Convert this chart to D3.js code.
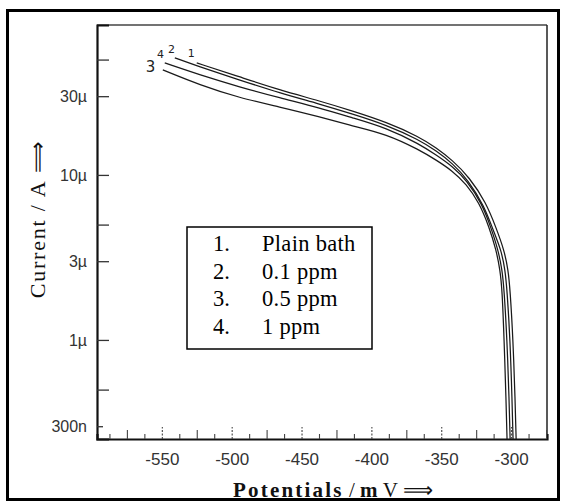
<!DOCTYPE html>
<html>
<head>
<meta charset="utf-8">
<script src="https://cdn.jsdelivr.net/npm/d3@7"></script>
<style>
  html, body { margin: 0; padding: 0; background: #fff; }
  svg { display: block; }
</style>
</head>
<body>
<div id="chart"></div>
<script>
// potentials (mV) and currents (A)
var potentials1 = [-525, -494.3, -465.7, -437.1, -413.6, -389.3, -365.7, -353.6, -342.1, -330, -317.9, -310.7, -305, -302.1, -300.7, -298.6, -297.1, -296.4];
var current1    = [47.7e-6, 39.3e-6, 32.7e-6, 28.1e-6, 24.4e-6, 20.9e-6, 17.0e-6, 14.6e-6, 12.3e-6, 9.7e-6, 6.8e-6, 4.77e-6, 3.51e-6, 2.66e-6, 2.01e-6, 1.0e-6, 0.43e-6, 0.25e-6];

var potentials2 = [-540.7, -525, -494.3, -465.7, -437.1, -413.6, -389.3, -365.7, -353.6, -342.1, -330.7, -319.3, -312.9, -307.1, -304.3, -302.9, -300.7, -299.3, -298.6];
var current2    = [51.2e-6, 45.8e-6, 37.6e-6, 31.4e-6, 26.9e-6, 23.4e-6, 20.1e-6, 16.3e-6, 14.0e-6, 11.8e-6, 9.3e-6, 6.5e-6, 4.64e-6, 3.51e-6, 2.66e-6, 2.01e-6, 1.0e-6, 0.43e-6, 0.25e-6];

var potentials3 = [-549.3, -522.9, -494.3, -465.7, -437.1, -413.6, -389.3, -365.7, -353.6, -342.1, -332.1, -322.9, -315.7, -310.7, -307.9, -306.4, -305, -303.6, -302.9];
var current3    = [43.3e-6, 35.1e-6, 29.3e-6, 25.8e-6, 22.5e-6, 19.8e-6, 17.7e-6, 14.2e-6, 12.3e-6, 10.6e-6, 8.8e-6, 6.8e-6, 4.84e-6, 3.51e-6, 2.66e-6, 2.01e-6, 1.0e-6, 0.43e-6, 0.25e-6];

var potentials4 = [-547.9, -522.9, -494.3, -465.7, -437.1, -413.6, -389.3, -365.7, -353.6, -342.1, -331.4, -320.7, -314.3, -309.3, -306.4, -305, -302.9, -301.4, -300.7];
var current4    = [47.7e-6, 40.4e-6, 34.1e-6, 29.3e-6, 25.5e-6, 22.2e-6, 19.3e-6, 15.4e-6, 13.2e-6, 11.3e-6, 9.2e-6, 6.67e-6, 4.77e-6, 3.51e-6, 2.66e-6, 2.01e-6, 1.0e-6, 0.43e-6, 0.25e-6];

var curveNames  = ["1", "2", "3", "4"];
var legendNums  = ["1.", "2.", "3.", "4."];
var legendTexts = ["Plain bath", "0.1 ppm", "0.5 ppm", "1 ppm"];

var xTickLabels = [-550, -500, -450, -400, -350, -300];
var yTickValues = [50e-6, 30e-6, 10e-6, 5e-6, 3e-6, 1e-6, 500e-9, 300e-9];
var yTickLabels = ["", "30\u00b5", "10\u00b5", "", "3\u00b5", "1\u00b5", "", "300n"];


var width  = 561,
    height = 502;

var plotLeft   = 97,
    plotRight  = 547,
    plotTop    = 25,
    plotBottom = 439;

var svg = d3.select("#chart")
            .append("svg")
            .attr("width", width)
            .attr("height", height);

// outer frame
svg.append("rect")
   .attr("x", 7.5)
   .attr("y", 10.5)
   .attr("width", 551)
   .attr("height", 489)
   .attr("fill", "none")
   .attr("stroke", "#000")
   .attr("stroke-width", 3);

var x = d3.scaleLinear()
          .domain([-596.4, -274.3])
          .range([plotLeft, plotRight]);

var y = d3.scaleLog()
          .domain([2.51e-7, 8.1e-5])
          .range([plotBottom, plotTop]);

// plot box, top and right sides are thin
svg.append("line")
   .attr("x1", plotLeft).attr("x2", plotRight)
   .attr("y1", plotTop).attr("y2", plotTop)
   .attr("stroke", "#444").attr("stroke-width", 1.3);

svg.append("line")
   .attr("x1", plotRight).attr("x2", plotRight)
   .attr("y1", plotTop).attr("y2", plotBottom)
   .attr("stroke", "#222").attr("stroke-width", 1.5);

// y axis
var yAxis = d3.axisLeft(y)
              .tickValues(yTickValues)
              .tickSize(-12)
              .tickPadding(10)
              .tickFormat(function(d, i) { return yTickLabels[i]; });

var gy = svg.append("g")
            .attr("transform", "translate(" + plotLeft + ",0)")
            .call(yAxis);

gy.select(".domain").attr("stroke", "#111").attr("stroke-width", 2.2);
gy.selectAll(".tick line").attr("stroke", "#333").attr("stroke-width", 1.3);
gy.selectAll(".tick line").filter(function(d) { return d === 300e-9; }).attr("x2", 6);
gy.selectAll(".tick text")
  .attr("fill", "#333")
  .style("font-family", "Liberation Sans, Arial, sans-serif")
  .style("font-size", "16px");

// x axis, ticks every 12.5 mV pointing inward
var xTickValues = d3.range(-587.5, -274, 12.5);

var xAxis = d3.axisBottom(x)
              .tickValues(xTickValues)
              .tickSize(-5)
              .tickPadding(14)
              .tickFormat(function(d) { return xTickLabels.indexOf(d) >= 0 ? d : ""; });

var gx = svg.append("g")
            .attr("transform", "translate(0," + plotBottom + ")")
            .call(xAxis);

gx.select(".domain").attr("stroke", "#111").attr("stroke-width", 2.2);
gx.selectAll(".tick line")
  .attr("stroke", "#444")
  .attr("stroke-width", 1.1)
  .attr("y2", function(d) {
    if (d % 50 === 0) return -12;
    if (d % 25 === 0) return -9;
    return -5;
  })
  .attr("stroke-dasharray", function(d) { return d % 50 === 0 ? "2,1.5" : null; });
gx.selectAll(".tick text")
  .attr("fill", "#333")
  .style("font-family", "Liberation Sans, Arial, sans-serif")
  .style("font-size", "17px");

// curves
var series = [
  { name: "1", xs: potentials1, ys: current1 },
  { name: "2", xs: potentials2, ys: current2 },
  { name: "3", xs: potentials3, ys: current3 },
  { name: "4", xs: potentials4, ys: current4 }
];

// basis keeps the hand traced knee smooth
var line = d3.line()
             .x(function(d) { return x(d[0]); })
             .y(function(d) { return y(d[1]); })
             .curve(d3.curveBasis);

svg.append("g")
   .selectAll("path")
   .data(series)
   .enter()
   .append("path")
   .attr("d", function(s) { return line(d3.zip(s.xs, s.ys)); })
   .attr("fill", "none")
   .attr("stroke", "#1a1a1a")
   .attr("stroke-width", 1.25);

// hand written curve numbers at the start of each line
var numberPos = { "3": [-558, 42e-6, 15], "4": [-551, 51e-6, 11], "2": [-543, 55e-6, 11], "1": [-529, 52e-6, 11] };

svg.append("g")
   .selectAll("text")
   .data(curveNames)
   .enter()
   .append("text")
   .attr("x", function(d) { return x(numberPos[d][0]); })
   .attr("y", function(d) { return y(numberPos[d][1]); })
   .attr("text-anchor", "middle")
   .style("font-family", "DejaVu Sans, sans-serif")
   .style("font-size", function(d) { return numberPos[d][2] + "px"; })
   .attr("fill", "#222")
   .text(function(d) { return d; });

// legend
var legend = svg.append("g");

legend.append("rect")
      .attr("x", 187)
      .attr("y", 227)
      .attr("width", 185)
      .attr("height", 122)
      .attr("fill", "#fff")
      .attr("stroke", "#000")
      .attr("stroke-width", 1.5);

legend.selectAll("text.num")
      .data(legendNums)
      .enter()
      .append("text")
      .attr("class", "num")
      .attr("x", 213)
      .attr("y", function(d, i) { return 251 + i * 27.5; })
      .style("font-family", "Liberation Serif, Times New Roman, serif")
      .style("font-size", "22.5px")
      .text(function(d) { return d; });

legend.selectAll("text.lab")
      .data(legendTexts)
      .enter()
      .append("text")
      .attr("class", "lab")
      .attr("x", 262)
      .attr("y", function(d, i) { return 251 + i * 27.5; })
      .style("font-family", "Liberation Serif, Times New Roman, serif")
      .style("font-size", "22.5px")
      .style("letter-spacing", "0.3px")
      .text(function(d) { return d; });

// axis titles
var xTitle = svg.append("text")
                .attr("x", 233)
                .attr("y", 497)
                .style("font-family", "Liberation Serif, Times New Roman, serif")
                .style("font-size", "21px")
                .attr("fill", "#111");

xTitle.append("tspan").style("font-weight", "bold").style("letter-spacing", "2.2px").text("Potentials");
xTitle.append("tspan").text(" / ");
xTitle.append("tspan").style("font-weight", "bold").text("m ");
xTitle.append("tspan").text("V ");
xTitle.append("tspan").text("\u27f9");

svg.append("text")
   .attr("transform", "translate(45,219) rotate(-90)")
   .attr("text-anchor", "middle")
   .style("font-family", "Liberation Serif, Times New Roman, serif")
   .style("font-size", "22px")
   .style("letter-spacing", "1.8px")
   .attr("fill", "#111")
   .text("Current / A \u27f9");

</script>
</body>
</html>
